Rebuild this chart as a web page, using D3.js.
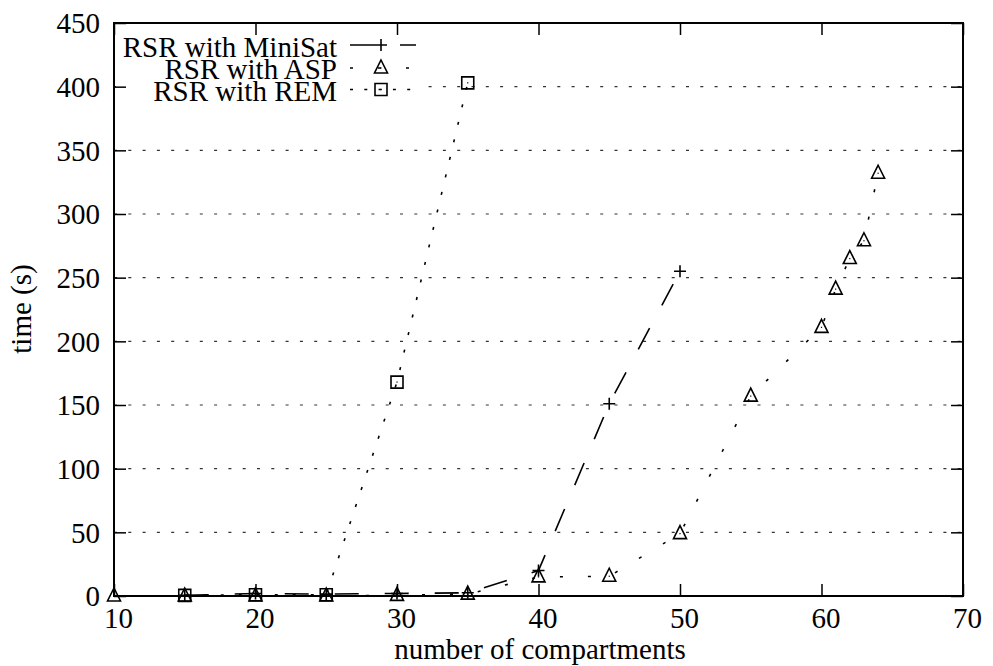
<!DOCTYPE html>
<html>
<head>
<meta charset="utf-8">
<script src="https://cdn.jsdelivr.net/npm/d3@7/dist/d3.min.js"></script>
<style>
  html, body { margin: 0; padding: 0; background: #fff; }
  svg { display: block; }
  text { font-family: "Liberation Serif", "Times New Roman", serif; fill: #000; }
</style>
</head>
<body>
<script>
// ---- data ----
const xTicks = [10, 20, 30, 40, 50, 60, 70];
const yTicks = [0, 50, 100, 150, 200, 250, 300, 350, 400, 450];
const seriesNames = ["RSR with MiniSat", "RSR with ASP", "RSR with REM"];

const xMiniSat = [15, 20, 25, 30, 35, 40, 45, 50];
const yMiniSat = [0.5, 2, 1.5, 2, 2.5, 20, 151, 255];

const xASP = [10, 15, 20, 25, 30, 35, 40, 45, 50, 55, 60, 61, 62, 63, 64];
const yASP = [0, 0, 0, 0, 0.5, 1.5, 15, 15.5, 49, 157, 211, 241, 265, 279, 332];

const xREM = [15, 20, 25, 30, 35];
const yREM = [0.5, 1, 1, 168, 403];

const xTitle = "number of compartments";
const yTitle = "time (s)";

// ---- layout ----
const width = 993, height = 666;
const margin = { left: 114, top: 23, right: 30, bottom: 70 };
const W = width - margin.left - margin.right;
const H = height - margin.top - margin.bottom;

const svg = d3.select("body").append("svg")
  .attr("width", width).attr("height", height);
const g = svg.append("g").attr("transform", `translate(${margin.left},${margin.top})`);

const x = d3.scaleLinear().domain([10, 70]).range([0, W]);
const y = d3.scaleLinear().domain([0, 450]).range([H, 0]);

// grid
g.append("g").selectAll("line")
  .data(yTicks.filter(v => v > 0 && v < 450))
  .join("line")
  .attr("x1", 0).attr("x2", W)
  .attr("y1", d => y(d)).attr("y2", d => y(d))
  .attr("stroke", "#333").attr("stroke-width", 1.2)
  .attr("stroke-dasharray", "3,11.3");

// key background
g.append("rect")
  .attr("x", 2).attr("y", 13).attr("width", 309).attr("height", 68)
  .attr("fill", "#fff");

// axes
const fontSize = 29;
const axB = g.append("g").attr("transform", `translate(0,${H})`)
  .call(d3.axisBottom(x).tickValues(xTicks).tickSizeInner(-12).tickSizeOuter(0).tickPadding(0));
axB.select(".domain").remove();
axB.selectAll("text").attr("y", 32).attr("dy", 0).attr("x", 4)
  .style("font-size", fontSize + "px").style("font-family", "Liberation Serif, serif");

const axL = g.append("g")
  .call(d3.axisLeft(y).tickValues(yTicks).tickSizeInner(-12).tickSizeOuter(0).tickPadding(0));
axL.select(".domain").remove();
axL.selectAll("text").attr("x", -14).attr("dy", "0.34em")
  .style("font-size", fontSize + "px").style("font-family", "Liberation Serif, serif");

const axT = g.append("g")
  .call(d3.axisTop(x).tickValues(xTicks).tickSizeInner(-12).tickSizeOuter(0).tickFormat(""));
axT.select(".domain").remove();
const axR = g.append("g").attr("transform", `translate(${W},0)`)
  .call(d3.axisRight(y).tickValues(yTicks).tickSizeInner(-12).tickSizeOuter(0).tickFormat(""));
axR.select(".domain").remove();

svg.selectAll(".tick line").attr("stroke", "#000").attr("stroke-width", 1.5);

// border
g.append("rect").attr("x", 0).attr("y", 0).attr("width", W).attr("height", H)
  .attr("fill", "none").attr("stroke", "#000").attr("stroke-width", 2);

// markers
function plus(sel) {
  sel.append("path").attr("d", "M-6,0H6M0,-6V6")
    .attr("stroke", "#000").attr("stroke-width", 1.6).attr("fill", "none");
}
function tri(sel) {
  sel.append("path").attr("d", "M0,-8L6.5,5L-6.5,5Z")
    .attr("stroke", "#000").attr("stroke-width", 1.6).attr("fill", "none");
  sel.append("rect").attr("x", -0.6).attr("y", -0.6).attr("width", 1.2).attr("height", 1.2).attr("fill", "#000");
}
function sq(sel) {
  sel.append("path").attr("d", "M-6,-6H6V6H-6Z")
    .attr("stroke", "#000").attr("stroke-width", 1.6).attr("fill", "none");
  sel.append("rect").attr("x", -0.6).attr("y", -0.6).attr("width", 1.2).attr("height", 1.2).attr("fill", "#000");
}

const series = [
  { xs: xMiniSat, ys: yMiniSat, dash: "24,26", width: 1.6, marker: plus },
  { xs: xASP, ys: yASP, dash: "3,25", width: 1.6, marker: tri },
  { xs: xREM, ys: yREM, dash: "3,15", width: 1.6, marker: sq }
];

const line = d3.line().x(d => x(d[0])).y(d => y(d[1]));

series.forEach(s => {
  const pts = s.xs.map((v, i) => [v, s.ys[i]]);
  g.append("path").datum(pts).attr("d", line)
    .attr("fill", "none").attr("stroke", "#000")
    .attr("stroke-width", s.width).attr("stroke-dasharray", s.dash);
  g.append("g").selectAll("g").data(pts).join("g")
    .attr("transform", d => `translate(${x(d[0])},${y(d[1])})`)
    .each(function () { s.marker(d3.select(this)); });
});

// key
const keyTextX = 337 - margin.left;
const keyBaselines = [56.5, 79, 101];
const keySampleY = [45, 68, 89.5];
const sampleX1 = 350 - margin.left, sampleX2 = 416 - margin.left, sampleMid = 381 - margin.left;
const keyDash = ["25,25", "3,25", "3,11.3"];
series.forEach((s, i) => {
  g.append("text")
    .attr("x", keyTextX).attr("y", keyBaselines[i] - margin.top)
    .attr("text-anchor", "end")
    .style("font-size", fontSize + "px")
    .text(seriesNames[i]);
  g.append("line")
    .attr("x1", sampleX1).attr("x2", sampleX2)
    .attr("y1", keySampleY[i] - margin.top).attr("y2", keySampleY[i] - margin.top)
    .attr("stroke", "#000").attr("stroke-width", 1.6)
    .attr("stroke-dasharray", keyDash[i]);
  const mg = g.append("g").attr("transform", `translate(${sampleMid},${keySampleY[i] - margin.top})`);
  s.marker(mg);
});

// titles
svg.append("text")
  .attr("x", 540).attr("y", 659)
  .attr("text-anchor", "middle")
  .style("font-size", fontSize + "px")
  .text(xTitle);
svg.append("text")
  .attr("transform", "translate(31,309) rotate(-90)")
  .attr("text-anchor", "middle")
  .style("font-size", fontSize + "px")
  .text(yTitle);
</script>
</body>
</html>
